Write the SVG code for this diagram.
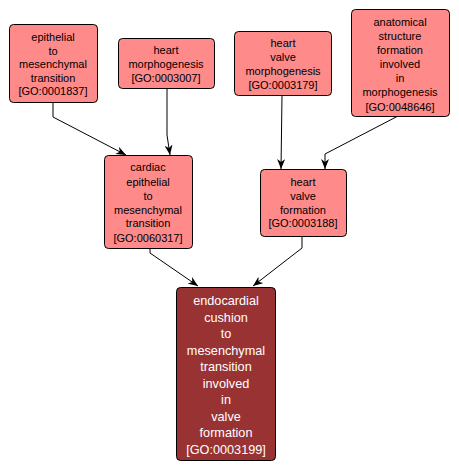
<svg xmlns="http://www.w3.org/2000/svg" width="459" height="470" viewBox="0 0 459 470">
<defs>
<style>
.n rect{fill:#ff8a8a;stroke:#000;stroke-width:1}
.d rect{fill:#993333;stroke:#000;stroke-width:1}
text{font-family:"Liberation Sans",Arial,sans-serif;font-size:11px;text-anchor:middle;fill:#000}
.d text{fill:#fff;font-size:12.7px}
.e path{fill:none;stroke:#000;stroke-width:1}
</style>
<marker id="a" viewBox="0 0 10 8" refX="10" refY="4" markerWidth="10" markerHeight="8" markerUnits="userSpaceOnUse" orient="auto">
<path d="M0,0 L10,4 L0,8 L3,4 z" fill="#000"/>
</marker>
</defs>
<rect width="459" height="470" fill="#fff"/>
<g class="e">
<path d="M53,102 L53,117 L126,155" marker-end="url(#a)"/>
<path d="M167,88 L167,135 L170,155" marker-end="url(#a)"/>
<path d="M282,95 L281,169" marker-end="url(#a)"/>
<path d="M398,116 L325,154 L325,169" marker-end="url(#a)"/>
<path d="M150,248 L150,253 L198,286" marker-end="url(#a)"/>
<path d="M302,236 L302,248 L253,286" marker-end="url(#a)"/>
</g>
<g id="GO0001837" class="n">
<rect x="9.5" y="24.5" width="88" height="78" rx="4"/>
<text x="53" y="41">epithelial</text>
<text x="53" y="54.5">to</text>
<text x="53" y="68">mesenchymal</text>
<text x="53" y="81.5">transition</text>
<text x="53" y="95">[GO:0001837]</text>
</g>
<g id="GO0003007" class="n">
<rect x="118.5" y="38.5" width="96" height="50" rx="4"/>
<text x="166" y="54">heart</text>
<text x="166" y="68">morphogenesis</text>
<text x="166" y="82">[GO:0003007]</text>
</g>
<g id="GO0003179" class="n">
<rect x="234.5" y="31.5" width="97" height="64" rx="4"/>
<text x="283" y="47">heart</text>
<text x="283" y="61">valve</text>
<text x="283" y="75">morphogenesis</text>
<text x="283" y="89">[GO:0003179]</text>
</g>
<g id="GO0048646" class="n">
<rect x="351.5" y="9.5" width="98" height="107" rx="4"/>
<text x="400" y="26">anatomical</text>
<text x="400" y="40">structure</text>
<text x="400" y="54">formation</text>
<text x="400" y="68">involved</text>
<text x="400" y="82">in</text>
<text x="400" y="96">morphogenesis</text>
<text x="400" y="111">[GO:0048646]</text>
</g>
<g id="GO0060317" class="n">
<rect x="104.5" y="155.5" width="88" height="93" rx="4"/>
<text x="148" y="171">cardiac</text>
<text x="148" y="186">epithelial</text>
<text x="148" y="200">to</text>
<text x="148" y="214">mesenchymal</text>
<text x="148" y="227">transition</text>
<text x="148" y="242">[GO:0060317]</text>
</g>
<g id="GO0003188" class="n">
<rect x="260.5" y="169.5" width="86" height="67" rx="4"/>
<text x="303" y="186">heart</text>
<text x="303" y="200">valve</text>
<text x="303" y="214">formation</text>
<text x="303" y="227">[GO:0003188]</text>
</g>
<g id="GO0003199" class="d">
<rect x="176.5" y="287.5" width="99" height="173" rx="4"/>
<text x="226" y="305">endocardial</text>
<text x="226" y="321.5">cushion</text>
<text x="226" y="338">to</text>
<text x="226" y="354.5">mesenchymal</text>
<text x="226" y="371">transition</text>
<text x="226" y="387.5">involved</text>
<text x="226" y="404">in</text>
<text x="226" y="420.5">valve</text>
<text x="226" y="437">formation</text>
<text x="226" y="453.5">[GO:0003199]</text>
</g>
</svg>
